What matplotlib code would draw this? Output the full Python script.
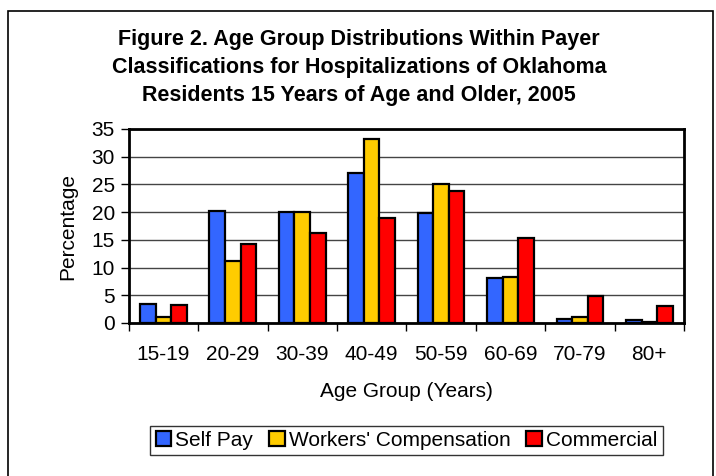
import matplotlib
matplotlib.use("Agg")

import matplotlib.pyplot as plt
from matplotlib.patches import Rectangle
import numpy as np

plt.rcParams["font.family"] = ["Liberation Sans", "DejaVu Sans"]

# ---------------------------------------------------------------------------
# Data (percent of hospitalizations within each payer class)
# ---------------------------------------------------------------------------
age_groups = ["15-19", "20-29", "30-39", "40-49", "50-59", "60-69", "70-79", "80+"]
self_pay = [3.4, 20.2, 20.1, 27.1, 19.8, 8.1, 0.7, 0.5]
workers_comp = [1.0, 11.1, 20.1, 33.2, 25.0, 8.3, 1.0, 0.15]
commercial = [3.2, 14.2, 16.2, 19.0, 23.8, 15.3, 4.8, 3.1]

series = [
    ("Self Pay", self_pay, "#3366FF"),
    ("Workers' Compensation", workers_comp, "#FFCC00"),
    ("Commercial", commercial, "#FF0000"),
]

FS = 15
W, H = 716, 476
fig = plt.figure(figsize=(W / 100, H / 100), dpi=100)
fig.patch.set_facecolor("white")

# outer frame around the whole chart
fig.patches.append(Rectangle((8 / W, -0.05), (712.5 - 8) / W, 1.05 - 10.7 / H,
                             transform=fig.transFigure, fill=False,
                             edgecolor="black", linewidth=1.2))

ax = fig.add_axes([128.7 / W, 1 - 323 / H, (684 - 128.7) / W, (323 - 129) / H])

x = np.arange(len(age_groups))
bw = 0.224
handles = []
for i, (name, vals, color) in enumerate(series):
    b = ax.bar(x + (i - 1) * bw, vals, bw, color=color, edgecolor="black",
               linewidth=1.6, label=name, zorder=3)
    handles.append(b)

ax.set_xlim(-0.5, len(age_groups) - 0.5)
ax.set_ylim(0, 35)
ax.set_yticks(range(0, 36, 5))
ax.yaxis.grid(True, color="#444444", linewidth=1.0, zorder=0)
ax.set_axisbelow(True)

ax.set_xticks(x)
ax.set_xticklabels(age_groups, fontsize=FS)
ax.set_xticks(np.arange(-0.5, len(age_groups), 1.0), minor=True)
ax.tick_params(axis="x", which="major", length=0, pad=16)
ax.tick_params(axis="x", which="minor", length=6, width=1.0, direction="out")
ax.tick_params(axis="y", labelsize=FS, length=6, width=1.0, pad=4)

for s in ax.spines.values():
    s.set_linewidth(2.0)
    s.set_color("black")

ax.set_ylabel("Percentage", fontsize=FS, labelpad=10)
ax.set_xlabel("Age Group (Years)", fontsize=FS, labelpad=13)

fig.text(359 / W, 1 - 67.5 / H,
         "Figure 2. Age Group Distributions Within Payer\n"
         "Classifications for Hospitalizations of Oklahoma\n"
         "Residents 15 Years of Age and Older, 2005",
         ha="center", va="center", fontsize=15.5, fontweight="bold",
         linespacing=1.42)

leg = fig.legend(handles=handles, loc="center",
                 bbox_to_anchor=(406.5 / W, 1 - 440.5 / H), ncol=3,
                 fontsize=FS, frameon=True, fancybox=False, shadow=False,
                 handlelength=0.75, handleheight=0.75, handletextpad=0.2,
                 columnspacing=0.75, borderpad=0.25, borderaxespad=0)
leg.get_frame().set_edgecolor("black")
leg.get_frame().set_linewidth(1.0)

fig.savefig("out.png", dpi=100, facecolor="white")
plt.close(fig)
